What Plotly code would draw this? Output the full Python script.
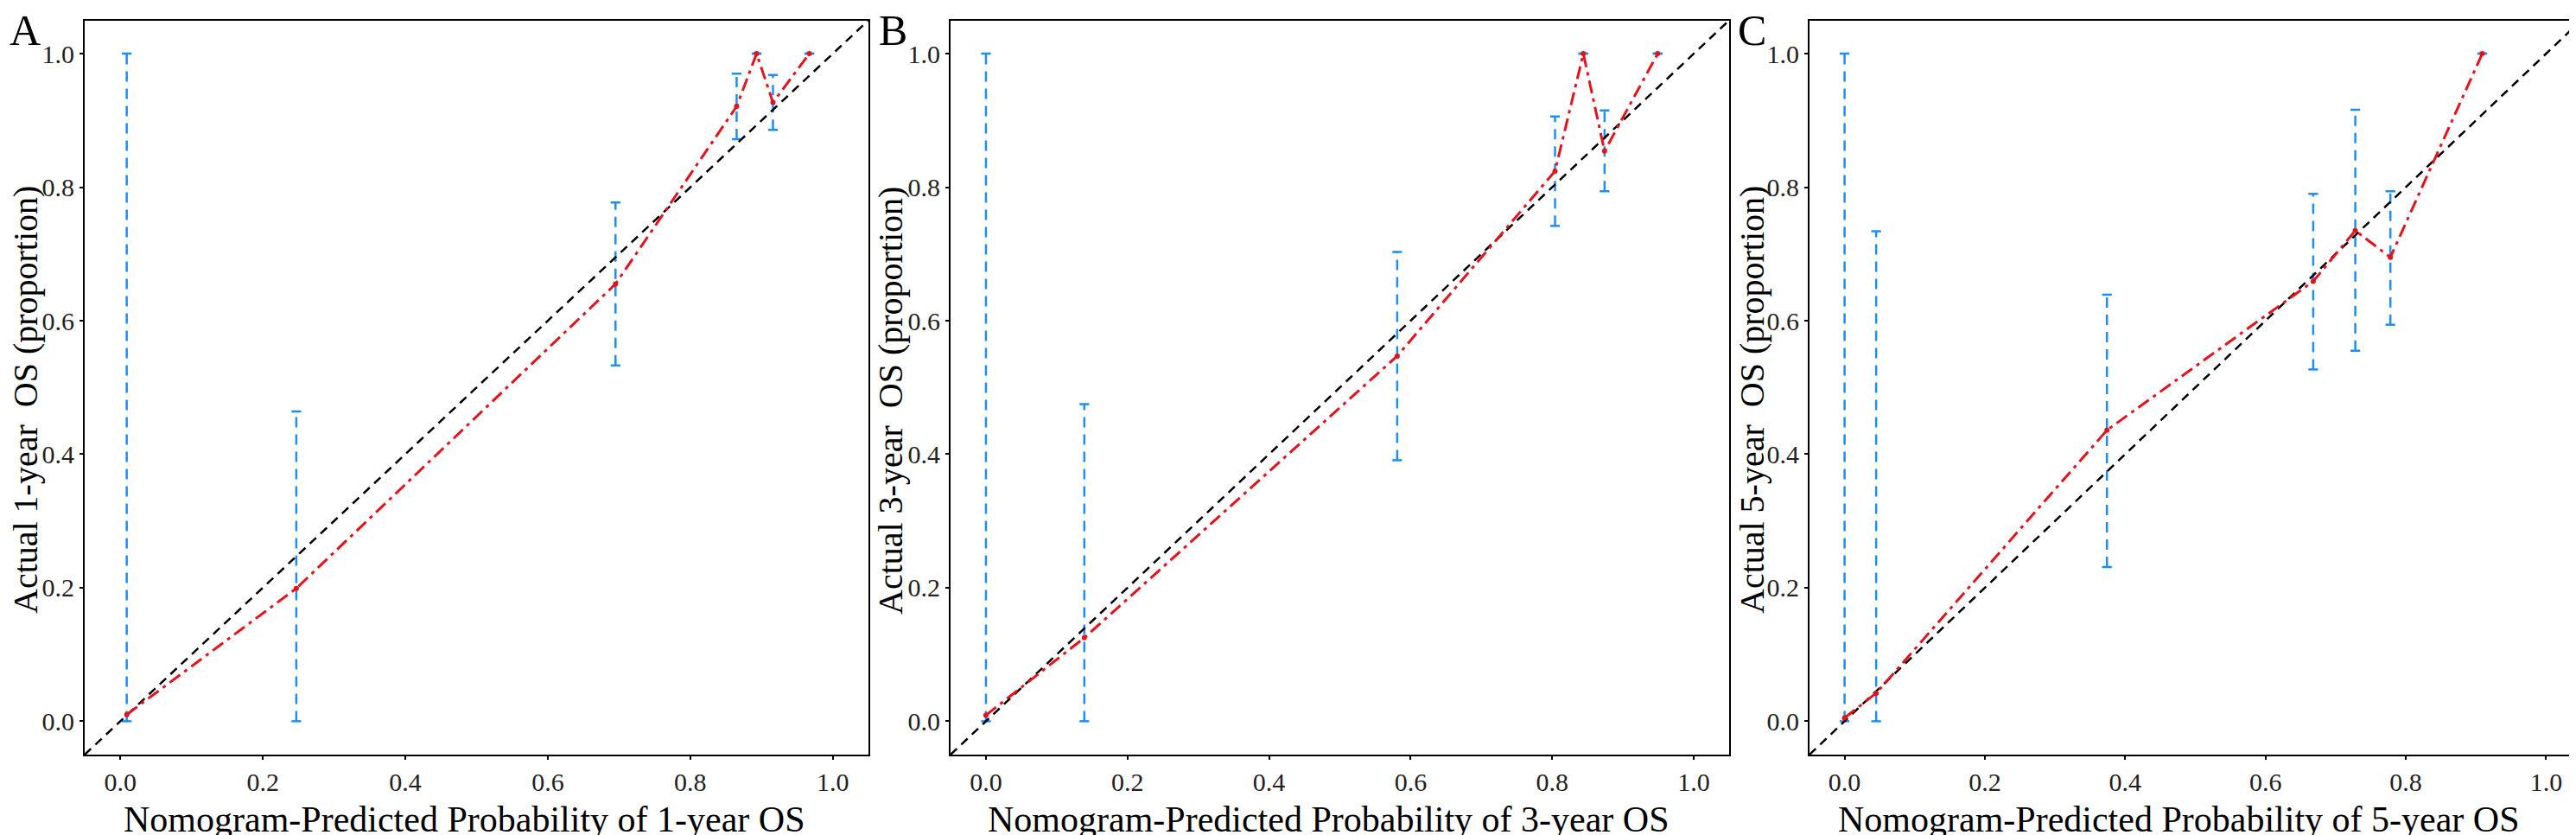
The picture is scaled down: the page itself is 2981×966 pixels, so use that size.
import plotly.graph_objects as go

pred_1y = [0.009, 0.247, 0.695, 0.865, 0.893, 0.916, 0.967]
obs_1y = [0.010, 0.199, 0.655, 0.921, 1.000, 0.927, 1.000]
low_1y = [0.000, 0.000, 0.533, 0.872, 1.000, 0.886, 1.000]
up_1y = [1.000, 0.464, 0.777, 0.970, 1.000, 0.968, 1.000]

pred_3y = [0.000, 0.139, 0.581, 0.804, 0.844, 0.874, 0.949]
obs_3y = [0.009, 0.125, 0.547, 0.824, 1.000, 0.854, 1.000]
low_3y = [0.000, 0.000, 0.391, 0.742, 1.000, 0.794, 1.000]
up_3y = [1.000, 0.475, 0.703, 0.906, 1.000, 0.915, 1.000]

pred_5y = [0.000, 0.045, 0.374, 0.668, 0.728, 0.778, 0.909]
obs_5y = [0.005, 0.042, 0.436, 0.659, 0.735, 0.695, 1.000]
low_5y = [0.000, 0.000, 0.231, 0.527, 0.555, 0.594, 1.000]
up_5y = [1.000, 0.734, 0.639, 0.790, 0.916, 0.794, 1.000]

years = ["1", "3", "5"]
letters = ["A", "B", "C"]
tick_vals = [0.0, 0.2, 0.4, 0.6, 0.8, 1.0]
axis_range = [-0.05, 1.05]

W, H = 2981, 966
BLUE = "#1e8ff0"
RED = "#e3121b"
FONT = "Liberation Serif, Times New Roman, serif"

panels = [
    (pred_1y, obs_1y, low_1y, up_1y),
    (pred_3y, obs_3y, low_3y, up_3y),
    (pred_5y, obs_5y, low_5y, up_5y),
]

# frame edges in pixels
x_frames = [(90, 997), (1092, 1993), (2086, 2979)]
y_frame = (15.5, 865)
xtitle_cx = [529, 1529, 2513]
ytitle_cx = [21, 1022, 2019]
letter_x = [21, 1025, 2019]

fig = go.Figure()
annotations = []

for i, (pred, obs, low, up) in enumerate(panels):
    n = "" if i == 0 else str(i + 1)
    xa, ya = "x" + n, "y" + n

    # dashed CI bars
    seg_x, seg_y = [], []
    for p, lo, hi in zip(pred, low, up):
        seg_x += [p, p, None]
        seg_y += [lo, hi, None]
    fig.add_trace(go.Scatter(x=seg_x, y=seg_y, mode="lines", xaxis=xa, yaxis=ya,
                             line=dict(color=BLUE, width=2.5, dash="12px,8px"),
                             showlegend=False, hoverinfo="skip"))
    fig.add_trace(go.Scatter(x=pred + pred, y=low + up, mode="markers", xaxis=xa, yaxis=ya,
                             marker=dict(symbol="line-ew", size=8, line=dict(color=BLUE, width=2.5)),
                             showlegend=False, hoverinfo="skip"))

    # ideal line
    fig.add_trace(go.Scatter(x=axis_range, y=axis_range, mode="lines", xaxis=xa, yaxis=ya,
                             line=dict(color="black", width=2.5, dash="10px,7px"),
                             showlegend=False, hoverinfo="skip"))

    # observed calibration curve
    fig.add_trace(go.Scatter(x=pred, y=obs, mode="lines+markers", xaxis=xa, yaxis=ya,
                             line=dict(color=RED, width=3, dash="15px,6px,4px,6px"),
                             marker=dict(color=RED, size=6),
                             showlegend=False))

    x0, x1 = x_frames[i]
    axis_style = dict(range=axis_range, tickvals=tick_vals, tickformat=".1f",
                      showline=True, linecolor="black", linewidth=2, mirror=True,
                      ticks="outside", ticklen=4, tickwidth=1.5, tickcolor="black",
                      showgrid=False, zeroline=False,
                      tickfont=dict(family=FONT, size=30, color="#222"))
    fig.update_layout(**{
        "xaxis" + n: dict(domain=[x0 / W, x1 / W], anchor=ya, **axis_style),
        "yaxis" + n: dict(domain=[1 - y_frame[1] / H, 1 - y_frame[0] / H], anchor=xa, **axis_style),
    })

    annotations.append(dict(text="Nomogram-Predicted Probability of %s-year OS" % years[i],
                            x=xtitle_cx[i] / W, y=1 - 940 / H, xref="paper", yref="paper",
                            xanchor="center", yanchor="middle",
                            showarrow=False, font=dict(family=FONT, size=42, color="black")))
    annotations.append(dict(text="Actual %s-year  OS (proportion)" % years[i],
                            x=ytitle_cx[i] / W, y=1 - 455 / H, xref="paper", yref="paper",
                            xanchor="center", yanchor="middle",
                            textangle=-90, showarrow=False, borderpad=0,
                            font=dict(family=FONT, size=40, color="black")))
    annotations.append(dict(text=letters[i], x=letter_x[i] / W, y=1 - 27 / H,
                            xref="paper", yref="paper", xanchor="center", yanchor="middle",
                            showarrow=False, borderpad=0,
                            font=dict(family=FONT, size=50, color="black")))

fig.update_layout(width=W, height=H, margin=dict(l=0, r=0, t=0, b=0),
                  plot_bgcolor="white", paper_bgcolor="white",
                  annotations=annotations)

fig.write_html("out.html")
